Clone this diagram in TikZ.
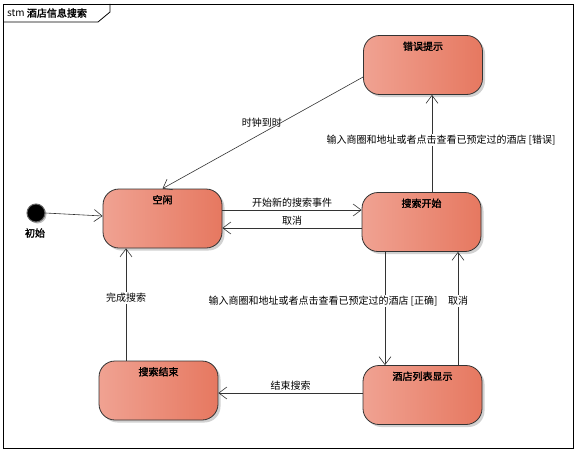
\documentclass[tikz,border=0pt]{standalone}
\usepackage{fontspec}
\setmainfont{Noto Sans CJK SC}
\newfontfamily\cjkb[FakeBold=2]{Noto Sans CJK SC}
\usetikzlibrary{arrows.meta,shadows,calc}
\definecolor{stleft}{RGB}{240,162,146}
\definecolor{stright}{RGB}{230,120,96}
\tikzset{
  statebox/.style={draw=black!80, line width=0.8pt, rounded corners=16pt,
    minimum width=119pt, minimum height=59pt, left color=stleft, right color=stright,
    drop shadow={shadow xshift=2.5pt, shadow yshift=-2.5pt, fill=black!18, opacity=1}},
  sttitle/.style={font=\cjkb\fontsize{10}{12}\selectfont},
  trans/.style={draw=black!80, line width=0.6pt, -{Straight Barb[length=8pt,width=12pt,line width=0.6pt]}},
  lab/.style={font=\fontsize{10}{12}\selectfont, inner sep=1pt},
  labw/.style={lab, fill=white}
}
\begin{document}
\begin{tikzpicture}[x=1pt,y=-1pt]
\useasboundingbox (0,0) rectangle (577,452);
% frame
\draw[line width=0.8pt] (3,4) rectangle (573,448);
\draw[line width=0.8pt] (3,22) -- (98,22) -- (110,12) -- (110,4);
\node[anchor=west, inner sep=0pt, font=\fontsize{10}{12}\selectfont] (title) at (7,13) {stm {\cjkb 酒店信息搜索}};
% states
\node[statebox, label={[sttitle,anchor=north,yshift=-3pt]north:错误提示}] (err) at (423,65) {};
\node[statebox, label={[sttitle,anchor=north,yshift=-3pt]north:空闲}] (idle) at (162.5,218.5) {};
\node[statebox, label={[sttitle,anchor=north,yshift=-3pt]north:搜索开始}] (start) at (421.5,222) {};
\node[statebox, label={[sttitle,anchor=north,yshift=-3pt]north:酒店列表显示}] (list) at (422.5,395) {};
\node[statebox, label={[sttitle,anchor=north,yshift=-3pt]north:搜索结束}] (end) at (158.5,390.5) {};
% initial
\node[circle, fill=black, draw=black!60, line width=1pt, minimum size=18pt, inner sep=0pt,
  drop shadow={shadow xshift=1.5pt, shadow yshift=-1.5pt, fill=black!25, opacity=1}] (init) at (36,213) {};
\node[sttitle, inner sep=0pt] (initlab) at (35,233) {初始};
% transitions
\draw[trans] (init.east) -- ([yshift=2.5pt]idle.west);
\draw[trans] ([yshift=-12pt]err.west) -- (idle.north)
  node[lab, pos=0.5, yshift=10pt, xshift=-1pt] {时钟到时};
\draw[trans] ([xshift=10.5pt]start.north) -- ([xshift=10.5pt]start.north |- err.south)
  node[labw, midway, xshift=9pt, yshift=3.5pt] {输入商圈和地址或者点击查看已预定过的酒店 [错误]};
\draw[trans] ([yshift=8.5pt]idle.east) -- ([yshift=8.5pt]idle.east -| start.west)
  node[lab, midway, anchor=south, yshift=1.5pt] {开始新的搜索事件};
\draw[trans] ([yshift=-6pt]start.west) -- ([yshift=-6pt]start.west -| idle.east)
  node[lab, midway, anchor=south, yshift=1.5pt] {取消};
\draw[trans] ([xshift=-36.5pt]start.south) -- ([xshift=-36.5pt]start.south |- list.north)
  node[labw, midway, xshift=-62pt, yshift=7.5pt] {输入商圈和地址或者点击查看已预定过的酒店 [正确]};
\draw[trans] ([xshift=35.5pt]list.north) -- ([xshift=35.5pt]list.north |- start.south)
  node[labw, midway, yshift=7.5pt] {取消};
\draw[trans] ([yshift=2pt]list.west) -- ([yshift=2pt]list.west -| end.east)
  node[lab, midway, anchor=south, yshift=1.5pt] {结束搜索};
\draw[trans] ([xshift=-32.5pt]end.north) -- ([xshift=-32.5pt]end.north |- idle.south)
  node[labw, midway, yshift=6.5pt] {完成搜索};
\end{tikzpicture}
\end{document}
